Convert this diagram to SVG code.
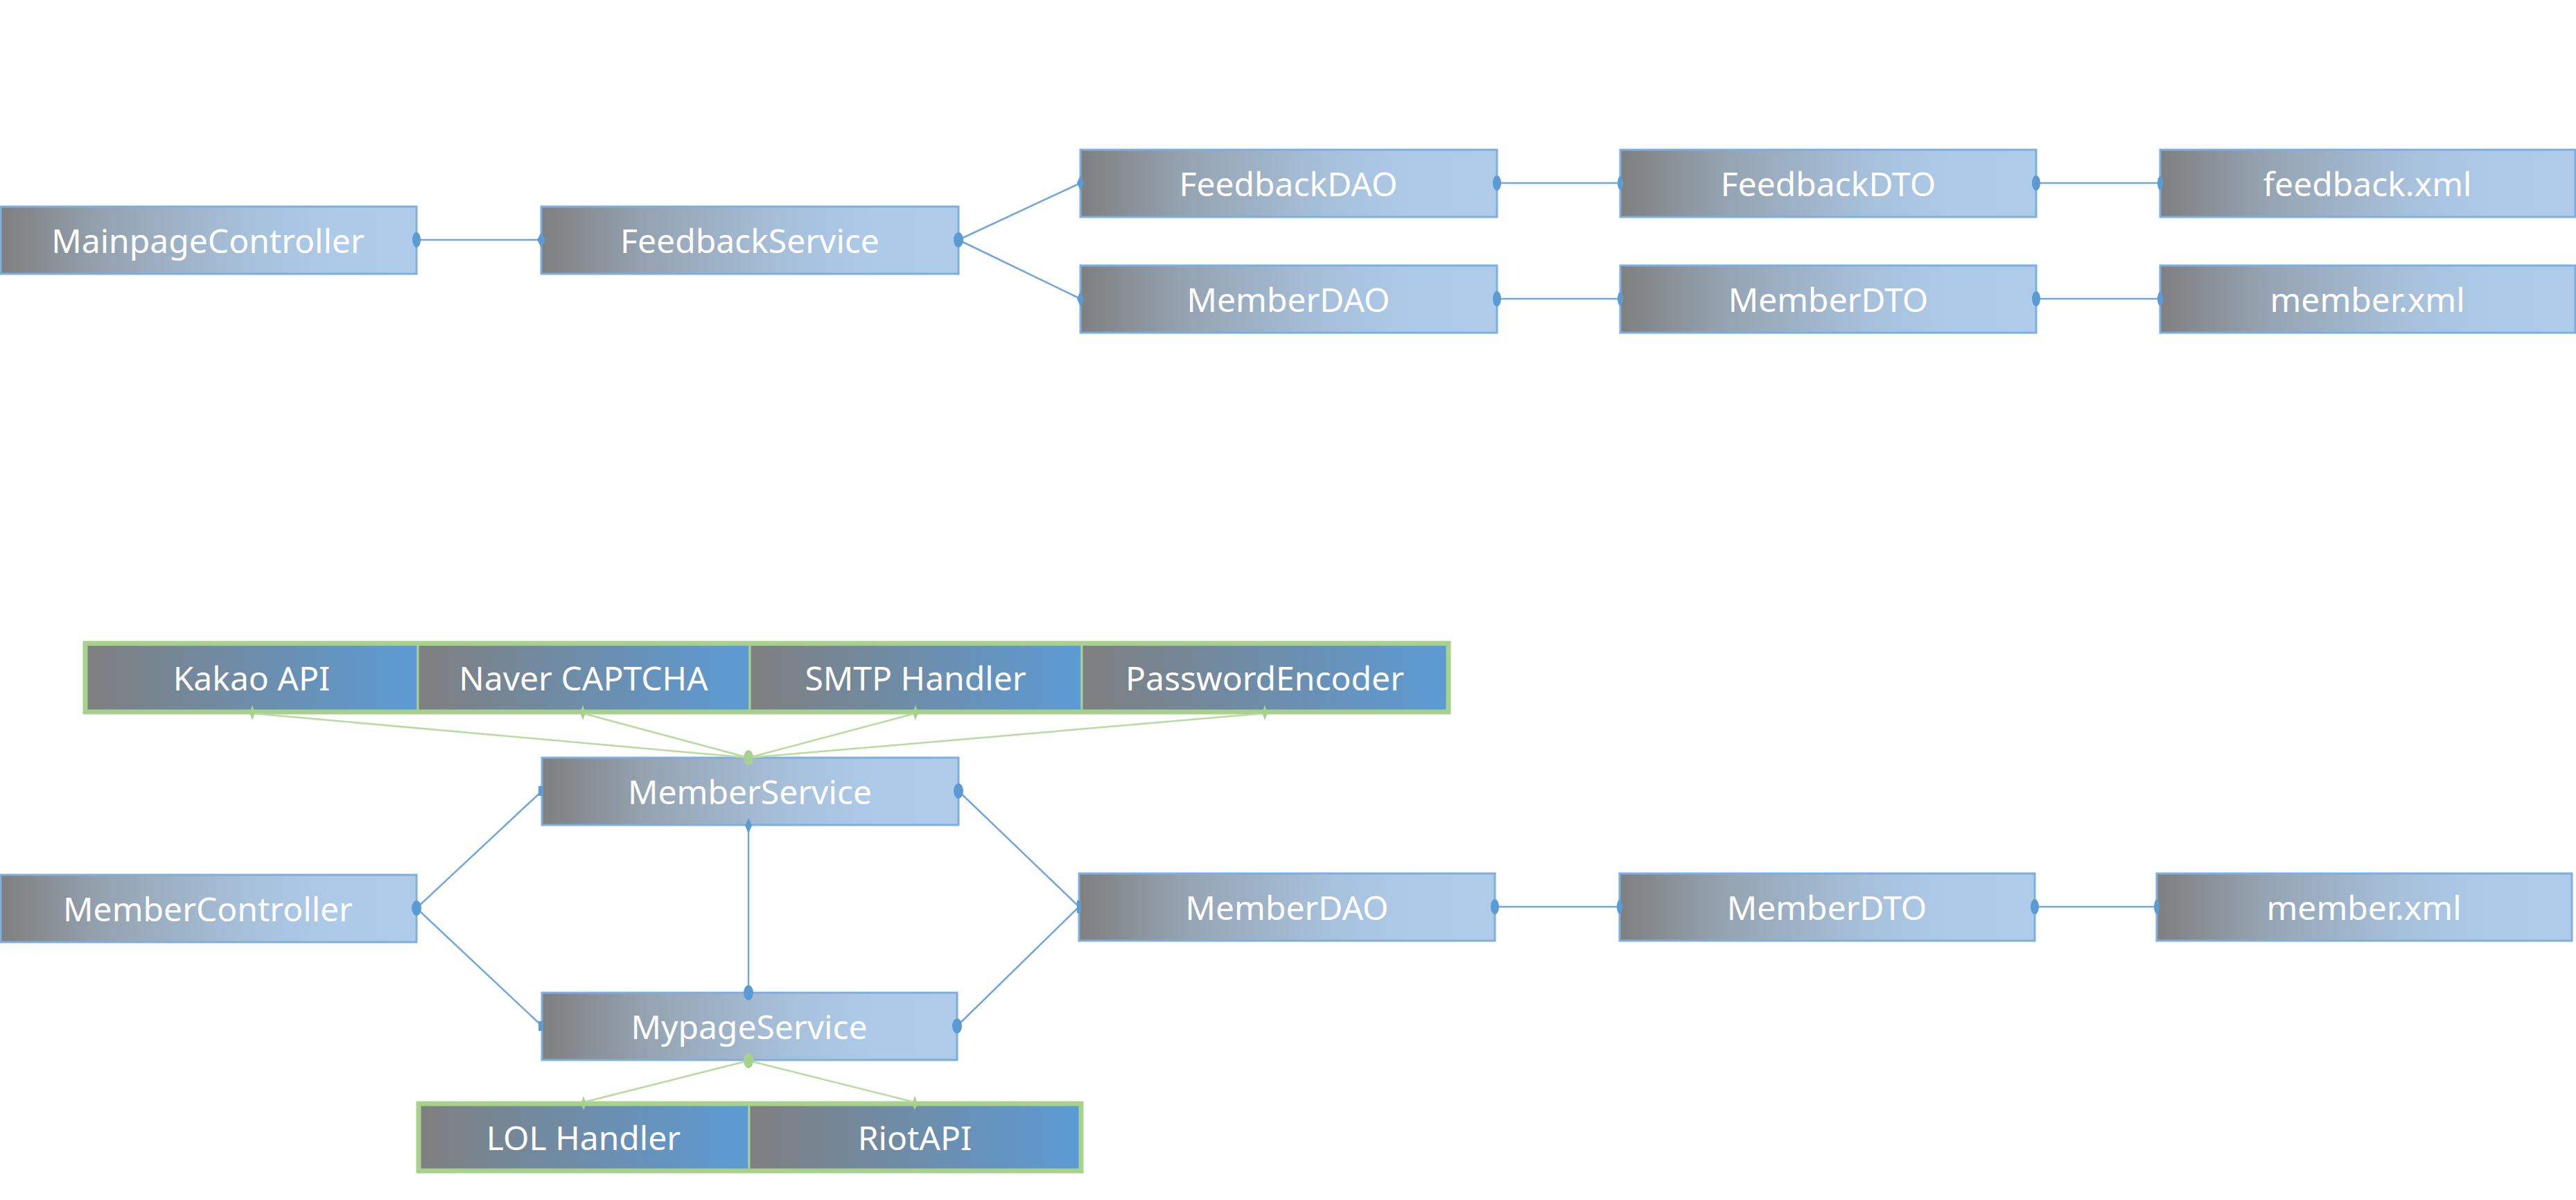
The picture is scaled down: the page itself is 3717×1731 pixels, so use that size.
<svg xmlns="http://www.w3.org/2000/svg" width="3717" height="1731" viewBox="0 0 3717 1731">
<defs>
<linearGradient id="gPale" x1="0" y1="0" x2="1" y2="0">
<stop offset="0" stop-color="#7f7f7f"/>
<stop offset="0.25" stop-color="#95a3b1"/>
<stop offset="0.6" stop-color="#a7c1dc"/>
<stop offset="0.8" stop-color="#adcae8"/>
<stop offset="1" stop-color="#aecbe9"/>
</linearGradient>
<linearGradient id="gBlue" x1="0" y1="0" x2="1" y2="0">
<stop offset="0" stop-color="#7f7f7f"/>
<stop offset="1" stop-color="#5b9bd5"/>
</linearGradient>
</defs>
<style>
.n{fill:url(#gPale);stroke:#7eaee0;stroke-width:3}
.g{fill:url(#gBlue);stroke:#a9d18e;stroke-width:3}
.gb{fill:none;stroke:#a9d18e;stroke-width:7}
.t{font-family:"Noto Sans","Open Sans",sans-serif;font-size:48px;fill:#ffffff;text-anchor:middle}
.c{stroke:#72a6dc;stroke-width:2.5;fill:none}
.cg{stroke:#b8dba2;stroke-width:2.5;fill:none}
.d{fill:#5b9bd5}
.dg{fill:#a9d18e}
</style>
<rect width="3717" height="1731" fill="#ffffff"/>
<g id="MainpageController"><rect class="n" x="1" y="298" width="600" height="97"/><text class="t" x="300" y="365">MainpageController</text></g>
<g id="FeedbackService"><rect class="n" x="781" y="298" width="602" height="97"/><text class="t" x="1082" y="365">FeedbackService</text></g>
<g id="FeedbackDAO"><rect class="n" x="1559" y="216" width="601" height="97"/><text class="t" x="1859" y="283">FeedbackDAO</text></g>
<g id="FeedbackDTO"><rect class="n" x="2338" y="216" width="600" height="97"/><text class="t" x="2638" y="283">FeedbackDTO</text></g>
<g id="feedback_xml"><rect class="n" x="3117" y="216" width="599" height="97"/><text class="t" x="3416" y="283">feedback.xml</text></g>
<g id="MemberDAO_top"><rect class="n" x="1559" y="383" width="601" height="97"/><text class="t" x="1859" y="450">MemberDAO</text></g>
<g id="MemberDTO_top"><rect class="n" x="2338" y="383" width="600" height="97"/><text class="t" x="2638" y="450">MemberDTO</text></g>
<g id="member_xml_top"><rect class="n" x="3117" y="383" width="599" height="97"/><text class="t" x="3416" y="450">member.xml</text></g>
<g id="ExternalAPIs">
<rect class="g" x="123" y="928" width="480" height="99"/>
<rect class="g" x="603" y="928" width="479" height="99"/>
<rect class="g" x="1082" y="928" width="479" height="99"/>
<rect class="g" x="1561" y="928" width="529" height="99"/>
<rect class="gb" x="123" y="928" width="1967" height="99"/>
<text class="t" x="363" y="996">Kakao API</text>
<text class="t" x="842" y="996">Naver CAPTCHA</text>
<text class="t" x="1321" y="996">SMTP Handler</text>
<text class="t" x="1825" y="996">PasswordEncoder</text>
</g>
<g id="MemberService"><rect class="n" x="782" y="1093" width="601" height="97"/><text class="t" x="1082" y="1160">MemberService</text></g>
<g id="MemberController"><rect class="n" x="1" y="1262" width="600" height="97"/><text class="t" x="300" y="1329">MemberController</text></g>
<g id="MypageService"><rect class="n" x="782" y="1432" width="599" height="97"/><text class="t" x="1081" y="1499">MypageService</text></g>
<g id="MemberDAO"><rect class="n" x="1557" y="1260" width="600" height="97"/><text class="t" x="1857" y="1327">MemberDAO</text></g>
<g id="MemberDTO"><rect class="n" x="2337" y="1260" width="599" height="97"/><text class="t" x="2636" y="1327">MemberDTO</text></g>
<g id="member_xml"><rect class="n" x="3112" y="1260" width="599" height="97"/><text class="t" x="3411" y="1327">member.xml</text></g>
<g id="GameAPIs">
<rect class="g" x="604" y="1592" width="477" height="97"/>
<rect class="g" x="1081" y="1592" width="479" height="97"/>
<rect class="gb" x="604" y="1592" width="956" height="97"/>
<text class="t" x="842" y="1659">LOL Handler</text>
<text class="t" x="1320" y="1659">RiotAPI</text>
</g>
<g id="connectors">
<line class="c" x1="601" y1="346" x2="781" y2="346"/>
<line class="c" x1="1383" y1="346" x2="1559" y2="264"/>
<line class="c" x1="1383" y1="346" x2="1559" y2="431"/>
<line class="c" x1="2160" y1="264" x2="2338" y2="264"/>
<line class="c" x1="2938" y1="264" x2="3117" y2="264"/>
<line class="c" x1="2160" y1="431" x2="2338" y2="431"/>
<line class="c" x1="2938" y1="431" x2="3117" y2="431"/>
<line class="cg" x1="1080" y1="1093" x2="364" y2="1029"/>
<line class="cg" x1="1080" y1="1093" x2="841" y2="1029"/>
<line class="cg" x1="1080" y1="1093" x2="1321" y2="1029"/>
<line class="cg" x1="1080" y1="1093" x2="1825" y2="1029"/>
<line class="c" x1="601" y1="1310" x2="782" y2="1141"/>
<line class="c" x1="601" y1="1310" x2="782" y2="1480"/>
<line class="c" x1="1383" y1="1141" x2="1557" y2="1308"/>
<line class="c" x1="1381" y1="1480" x2="1557" y2="1308"/>
<line class="c" x1="1080" y1="1191" x2="1080" y2="1432"/>
<line class="cg" x1="1080" y1="1530" x2="842" y2="1590"/>
<line class="cg" x1="1080" y1="1530" x2="1320" y2="1590"/>
<line class="c" x1="2157" y1="1308" x2="2337" y2="1308"/>
<line class="c" x1="2936" y1="1308" x2="3112" y2="1308"/>
<ellipse class="d" cx="601" cy="346" rx="6" ry="11"/>
<path class="d" d="M781 335 L787 346 L781 357 L775 346 Z"/>
<ellipse class="d" cx="1383" cy="346" rx="7" ry="11"/>
<path class="d" d="M1559 253 L1564 264 L1559 275 L1554 264 Z"/>
<path class="d" d="M1559 420 L1564 431 L1559 442 L1554 431 Z"/>
<ellipse class="d" cx="2160" cy="264" rx="6" ry="11"/>
<ellipse class="d" cx="2338" cy="264" rx="4" ry="10"/>
<ellipse class="d" cx="2938" cy="264" rx="6" ry="11"/>
<ellipse class="d" cx="3117" cy="264" rx="4" ry="10"/>
<ellipse class="d" cx="2160" cy="431" rx="6" ry="11"/>
<ellipse class="d" cx="2338" cy="431" rx="4" ry="10"/>
<ellipse class="d" cx="2938" cy="431" rx="6" ry="11"/>
<ellipse class="d" cx="3117" cy="431" rx="4" ry="10"/>
<ellipse class="dg" cx="1080" cy="1093" rx="7" ry="11"/>
<path class="dg" d="M364 1017 L368 1028 L364 1039 L360 1028 Z"/>
<path class="dg" d="M841 1017 L845 1028 L841 1039 L837 1028 Z"/>
<path class="dg" d="M1321 1017 L1325 1028 L1321 1039 L1317 1028 Z"/>
<path class="dg" d="M1825 1017 L1829 1028 L1825 1039 L1821 1028 Z"/>
<ellipse class="d" cx="601" cy="1310" rx="7" ry="11"/>
<rect class="d" x="777" y="1134" width="6" height="14"/>
<rect class="d" x="777" y="1473" width="6" height="14"/>
<ellipse class="d" cx="1383" cy="1141" rx="7" ry="11"/>
<ellipse class="d" cx="1381" cy="1480" rx="7" ry="11"/>
<rect class="d" x="1554" y="1299" width="6" height="18"/>
<path class="d" d="M1080 1180 L1085 1191 L1080 1202 L1075 1191 Z"/>
<ellipse class="d" cx="1080" cy="1432" rx="7" ry="11"/>
<ellipse class="dg" cx="1080" cy="1530" rx="7" ry="11"/>
<path class="dg" d="M842 1581 L846 1592 L842 1601 L838 1592 Z"/>
<path class="dg" d="M1320 1581 L1324 1592 L1320 1601 L1316 1592 Z"/>
<ellipse class="d" cx="2157" cy="1308" rx="6" ry="11"/>
<ellipse class="d" cx="2337" cy="1308" rx="4" ry="10"/>
<ellipse class="d" cx="2936" cy="1308" rx="6" ry="11"/>
<ellipse class="d" cx="3112" cy="1308" rx="4" ry="10"/>
</g>
</svg>
